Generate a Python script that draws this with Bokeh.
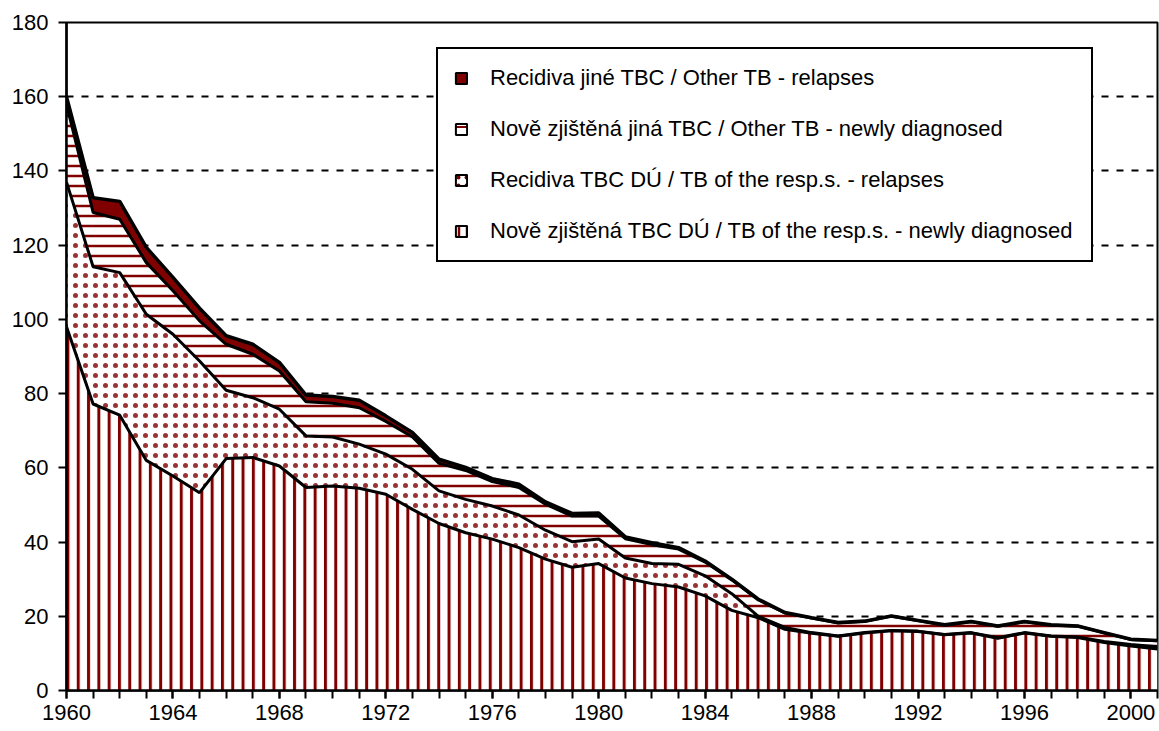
from bokeh.plotting import figure
from bokeh.models import ColumnDataSource, Range1d, FixedTicker, Legend, LegendItem
from bokeh.transform import stack
from bokeh.embed import file_html
from bokeh.resources import INLINE

years = list(range(1960, 2002))

# Nově zjištěná TBC DÚ / TB of the resp.s. - newly diagnosed
new_resp = [98.0, 77.2, 74.2, 62.0, 57.8, 53.3, 62.5, 62.8, 60.5, 54.7,
            55.1, 54.5, 52.9, 48.8, 45.0, 42.5, 40.8, 38.5, 35.4, 33.2,
            34.2, 30.3, 28.8, 27.9, 25.5, 21.6, 19.6, 16.5, 15.4, 14.6,
            15.5, 16.1, 15.9, 15.0, 15.5, 14.1, 15.5, 14.6, 14.3, 12.9,
            12.0, 11.2]
# Recidiva TBC DÚ / TB of the resp.s. - relapses
relapse_resp = [39.0, 37.0, 38.4, 39.4, 38.2, 35.5, 18.4, 16.1, 15.3, 13.9,
                13.2, 11.9, 10.8, 10.8, 8.8, 9.0, 8.9, 8.8, 7.8, 6.9,
                6.6, 5.4, 5.4, 6.1, 5.4, 4.5, 0.4, 0.5, 0.2, 0.1,
                0.1, 0.1, 0.1, 0.1, 0.1, 0.1, 0.1, 0.1, 0.1, 0.3,
                0.4, 0.6]
# Nově zjištěná jiná TBC / Other TB - newly diagnosed
new_other = [21.0, 14.6, 14.4, 13.9, 11.7, 10.8, 12.4, 11.7, 10.3, 9.2,
             9.1, 9.8, 8.8, 8.7, 7.4, 7.8, 6.6, 7.4, 7.0, 6.9,
             6.2, 5.2, 5.1, 4.1, 3.7, 3.7, 4.4, 3.9, 3.9, 3.5,
             3.0, 3.8, 2.8, 2.5, 2.9, 3.1, 2.9, 2.9, 2.9, 2.3,
             1.3, 1.6]
# Recidiva jiné TBC / Other TB - relapses
relapse_other = [2.0, 4.0, 4.8, 4.1, 3.6, 3.4, 2.3, 2.7, 2.3, 1.8,
                 1.8, 2.0, 1.5, 1.2, 1.1, 0.8, 0.8, 0.9, 0.6, 0.7,
                 0.8, 0.5, 0.5, 0.4, 0.3, 0.2, 0.2, 0.1, 0.1, 0.1,
                 0.1, 0.1, 0.1, 0.1, 0.1, 0.1, 0.1, 0.1, 0.1, 0.1,
                 0.1, 0.1]

series_labels = [
    "Recidiva jiné TBC / Other TB - relapses",
    "Nově zjištěná jiná TBC / Other TB - newly diagnosed",
    "Recidiva TBC DÚ / TB of the resp.s. - relapses",
    "Nově zjištěná TBC DÚ / TB of the resp.s. - newly diagnosed",
]
y_ticks = [0, 20, 40, 60, 80, 100, 120, 140, 160, 180]
x_label_ticks = [1960, 1964, 1968, 1972, 1976, 1980, 1984, 1988, 1992, 1996, 2000]

DARK = "#800000"
FONT = "Liberation Sans"
NAN = float("nan")

src = ColumnDataSource(dict(year=years, s1=new_resp, s2=relapse_resp,
                            s3=new_other, s4=relapse_other))

p = figure(width=1159, height=731, output_backend="svg", toolbar_location=None,
           x_range=Range1d(1960, 2001), y_range=Range1d(0, 180),
           min_border_left=66, min_border_right=2, min_border_top=22,
           min_border_bottom=41)
p.background_fill_color = "white"
p.border_fill_color = "white"
p.outline_line_color = "black"
p.outline_line_width = 2

# stacked areas
p.varea(x="year", y1=0, y2=stack("s1"), source=src, fill_color="white",
        hatch_pattern="|", hatch_color=DARK, hatch_scale=10.3, hatch_weight=3)
p.varea(x="year", y1=stack("s1"), y2=stack("s1", "s2"), source=src, fill_color="white",
        hatch_pattern=".", hatch_color=DARK, hatch_scale=10, hatch_weight=2, hatch_alpha=0.8)
p.varea(x="year", y1=stack("s1", "s2"), y2=stack("s1", "s2", "s3"), source=src,
        fill_color="white", hatch_pattern="-", hatch_color=DARK, hatch_scale=10,
        hatch_weight=2.5)
p.varea(x="year", y1=stack("s1", "s2", "s3"), y2=stack("s1", "s2", "s3", "s4"),
        source=src, fill_color=DARK)

# boundary lines
p.line("year", stack("s1"), source=src, line_color="black", line_width=3)
p.line("year", stack("s1", "s2"), source=src, line_color="black", line_width=3)
p.line("year", stack("s1", "s2", "s3"), source=src, line_color="black", line_width=3)
p.line("year", stack("s1", "s2", "s3", "s4"), source=src, line_color="black", line_width=3.5)

# legend-only glyphs (NaN positions: never drawn in the plot)
lsrc = ColumnDataSource(dict(l=[NAN], r=[NAN], t=[NAN], b=[NAN]))
lg4 = p.quad(left="l", right="r", top="t", bottom="b", source=lsrc, fill_color=DARK,
             line_color="black", line_width=2)
lg3 = p.quad(left="l", right="r", top="t", bottom="b", source=lsrc, fill_color="white",
             hatch_pattern="-", hatch_color=DARK, hatch_scale=8, hatch_weight=2,
             line_color="black", line_width=2)
lg2 = p.quad(left="l", right="r", top="t", bottom="b", source=lsrc, fill_color="white",
             hatch_pattern=".", hatch_color=DARK, hatch_scale=8, hatch_weight=2.5,
             line_color="black", line_width=2)
lg1 = p.quad(left="l", right="r", top="t", bottom="b", source=lsrc, fill_color="white",
             hatch_pattern="|", hatch_color=DARK, hatch_scale=8, hatch_weight=2.5,
             line_color="black", line_width=2)

legend = Legend(items=[LegendItem(label=series_labels[0], renderers=[lg4]),
                       LegendItem(label=series_labels[1], renderers=[lg3]),
                       LegendItem(label=series_labels[2], renderers=[lg2]),
                       LegendItem(label=series_labels[3], renderers=[lg1])],
                location=(370, 428))
legend.label_text_font = FONT
legend.label_text_font_size = "22px"
legend.label_text_color = "black"
legend.glyph_width = 14
legend.glyph_height = 14
legend.label_standoff = 22
legend.padding = 16
legend.spacing = 25
legend.label_height = 24
legend.label_width = 585
legend.margin = 0
legend.border_line_color = "black"
legend.border_line_alpha = 1
legend.border_line_width = 2
legend.background_fill_color = "white"
legend.background_fill_alpha = 1
p.add_layout(legend)

# axes
p.xaxis.ticker = FixedTicker(ticks=x_label_ticks, minor_ticks=years)
p.yaxis.ticker = FixedTicker(ticks=y_ticks, minor_ticks=[])
for ax in (p.xaxis[0], p.yaxis[0]):
    ax.axis_line_color = "black"
    ax.axis_line_width = 2.5
    ax.major_tick_line_color = "black"
    ax.major_tick_line_width = 2
    ax.major_tick_out = 8
    ax.major_tick_in = 0
    ax.minor_tick_line_color = "black"
    ax.minor_tick_line_width = 2
    ax.minor_tick_out = 8
    ax.minor_tick_in = 0
    ax.major_label_text_font = FONT
    ax.major_label_text_font_size = "22px"
    ax.major_label_text_color = "black"
p.xaxis.major_label_standoff = 6
p.yaxis.major_label_standoff = 10

p.xgrid.grid_line_color = None
p.ygrid.grid_line_color = "black"
p.ygrid.grid_line_width = 2
p.ygrid.grid_line_dash = "7 8"

open("out.html", "w").write(file_html(p, INLINE))
